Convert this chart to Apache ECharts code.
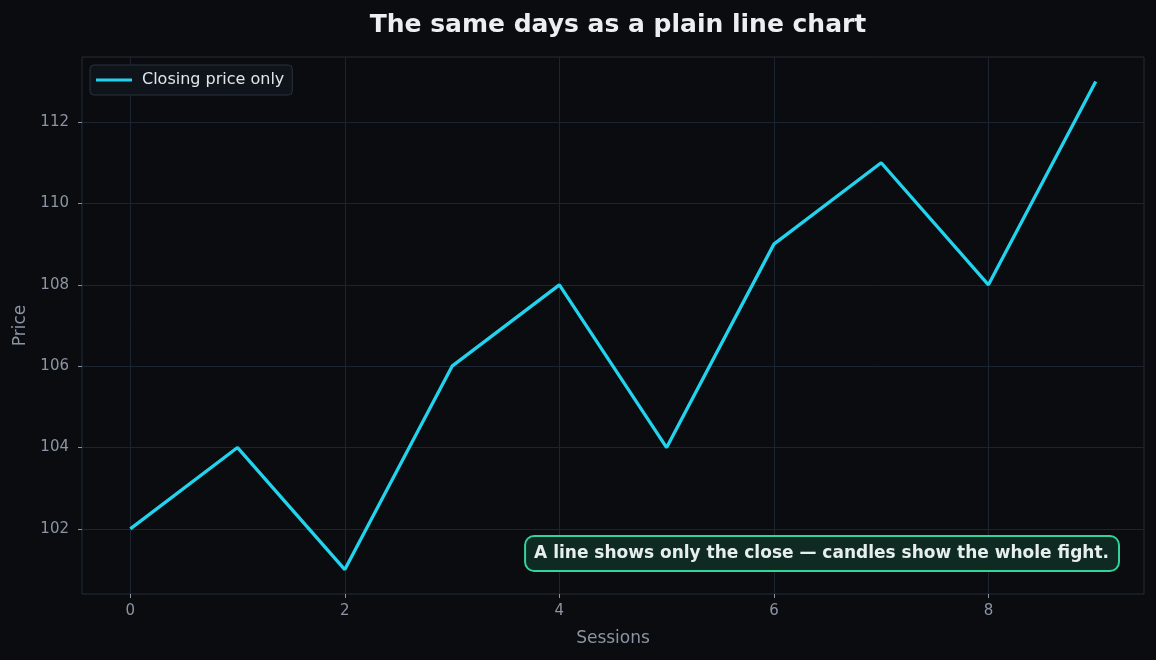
<!DOCTYPE html>
<html>
<head>
<meta charset="utf-8">
<script src="https://cdn.jsdelivr.net/npm/echarts@6/dist/echarts.min.js"></script>
<style>
  html, body { margin: 0; padding: 0; background: #0b0c10; }
  #main { width: 1156px; height: 660px; }
</style>
</head>
<body>
<div id="main"></div>
<script>
// 数据
var sessions = [0, 1, 2, 3, 4, 5, 6, 7, 8, 9];
var closes = [102, 104, 101, 106, 108, 104, 109, 111, 108, 113];
var xTicks = [0, 2, 4, 6, 8];
var yTicks = [102, 104, 106, 108, 110, 112];

var gridColor = '#1b2430';
var tickColor = '#8b94a3';
var font = 'DejaVu Sans';

var myChart = echarts.init(document.getElementById('main'));

var option = {
    backgroundColor: '#0b0c10',
    animation: false,
    textStyle: { fontFamily: font },
    title: {
        text: 'The same days as a plain line chart',
        left: 613,
        textAlign: 'center',
        top: 8,
        textStyle: { color: '#eceef1', fontSize: 25, fontWeight: 'bold', fontFamily: font }
    },
    legend: {
        left: 90,
        top: 65,
        padding: [7, 8, 7, 6],
        backgroundColor: '#0f141b',
        borderColor: '#28313c',
        borderWidth: 1,
        borderRadius: 4,
        itemWidth: 36,
        itemHeight: 3,
        icon: 'rect',
        textStyle: { color: '#e2e5ea', fontSize: 16, fontFamily: font, padding: [0, 0, 0, 5] },
        data: ['Closing price only']
    },
    grid: {
        left: 82,
        right: 12,
        top: 57,
        bottom: 66,
        show: true,
        borderColor: '#222c37',
        borderWidth: 1,
        backgroundColor: '#0b0c10'
    },
    xAxis: {
        type: 'value',
        min: -0.45,
        max: 9.45,
        name: 'Sessions',
        nameLocation: 'middle',
        nameGap: 36,
        nameTextStyle: { color: tickColor, fontSize: 17, fontFamily: font },
        axisLine: { show: false, onZero: false },
        axisTick: { show: true, length: 4, customValues: xTicks, lineStyle: { color: tickColor } },
        axisLabel: { customValues: xTicks, color: tickColor, fontSize: 15, margin: 10 },
        splitLine: { show: true, lineStyle: { color: gridColor, width: 1 } }
    },
    yAxis: {
        type: 'value',
        min: 100.4,
        max: 113.6,
        name: 'Price',
        nameLocation: 'middle',
        nameGap: 49,
        nameTextStyle: { color: tickColor, fontSize: 17, fontFamily: font },
        axisLine: { show: false, onZero: false },
        axisTick: { show: true, length: 4, customValues: yTicks, lineStyle: { color: tickColor } },
        axisLabel: { customValues: yTicks, color: tickColor, fontSize: 15, margin: 13 },
        splitLine: { show: true, lineStyle: { color: gridColor, width: 1 } }
    },
    series: [{
        name: 'Closing price only',
        type: 'line',
        data: sessions.map(function (s, i) { return [s, closes[i]]; }),
        showSymbol: false,
        symbol: 'none',
        lineStyle: { color: '#22d3ee', width: 3.3 },
        itemStyle: { color: '#22d3ee' }
    }],
    graphic: [{
        type: 'text',
        right: 36,
        top: 535,
        z: 100,
        style: {
            text: 'A line shows only the close \u2014 candles show the whole fight.',
            fill: '#e6efec',
            font: 'bold 17px "DejaVu Sans"',
            backgroundColor: '#0f2a22',
            borderColor: '#34d399',
            borderWidth: 2,
            borderRadius: 8,
            padding: [8, 9, 8, 8]
        }
    }]
};

myChart.setOption(option);
</script>
</body>
</html>
